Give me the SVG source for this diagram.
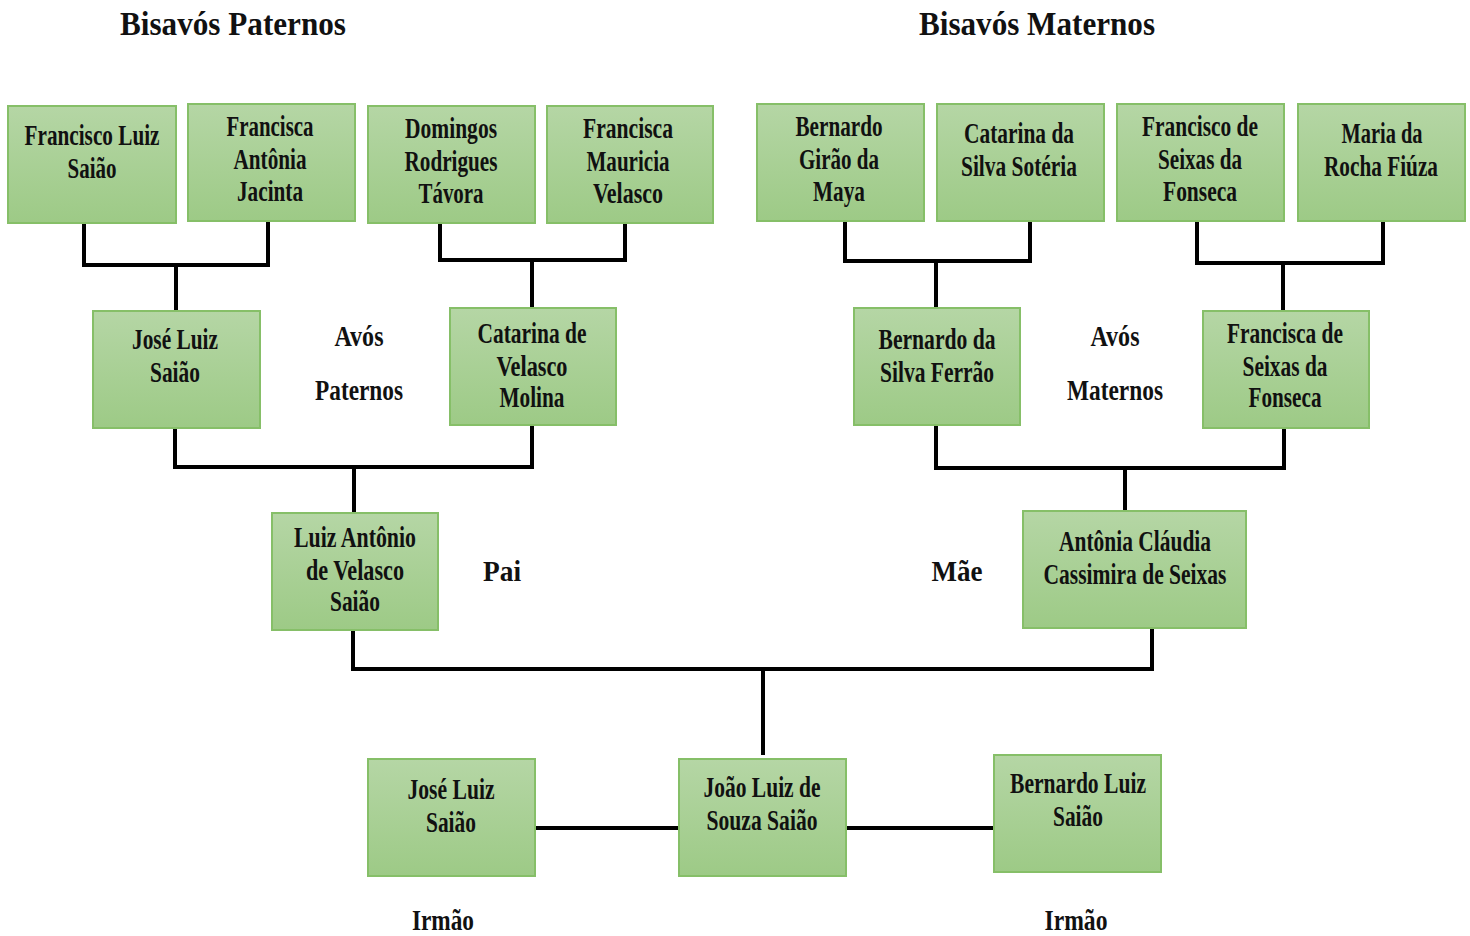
<svg xmlns="http://www.w3.org/2000/svg" width="1470" height="936" viewBox="0 0 1470 936">
<defs>
<linearGradient id="g" x1="0" y1="0" x2="0" y2="1">
<stop offset="0" stop-color="#b5d6a5"/>
<stop offset="1" stop-color="#9dca86"/>
</linearGradient>
<style>
.box{fill:url(#g);stroke:#86bf68;stroke-width:2}
text{font-family:"Liberation Serif","Times New Roman",serif;font-weight:bold;fill:#111;text-anchor:middle}
.t{font-size:29px}
.h{font-size:33px}
.c{fill:none;stroke:#000;stroke-width:4;stroke-linejoin:miter;stroke-linecap:square}
</style>
</defs>
<rect width="1470" height="936" fill="#fff"/>

<g id="titles">
<text class="h" x="233" y="35" textLength="226" lengthAdjust="spacingAndGlyphs">Bisavós Paternos</text>
<text class="h" x="1037" y="35" textLength="236" lengthAdjust="spacingAndGlyphs">Bisavós Maternos</text>
</g>

<g id="connectors">
<path class="c" d="M84,223 V265 H268 V223 M176,265 V311"/>
<path class="c" d="M440,223 V260 H625 V223 M532,260 V308"/>
<path class="c" d="M845,221 V261 H1030 V221 M936,261 V308"/>
<path class="c" d="M1197,221 V263 H1383 V221 M1283,263 V311"/>
<path class="c" d="M175,428 V467 H532 V426 M354,467 V513"/>
<path class="c" d="M936,426 V468 H1284 V428 M1125,468 V511"/>
<path class="c" d="M353,630 V669 H1152 V628 M763,669 V753"/>
<path class="c" d="M535,828 H679 M846,828 H994"/>
</g>

<g id="n1"><rect class="box" x="8" y="106" width="168" height="117"/>
<text class="t" x="92" y="145" textLength="135" lengthAdjust="spacingAndGlyphs">Francisco Luiz</text>
<text class="t" x="92" y="178" textLength="49" lengthAdjust="spacingAndGlyphs">Saião</text></g>

<g id="n2"><rect class="box" x="188" y="104" width="167" height="117"/>
<text class="t" x="270" y="136" textLength="87" lengthAdjust="spacingAndGlyphs">Francisca</text>
<text class="t" x="270" y="169" textLength="73" lengthAdjust="spacingAndGlyphs">Antônia</text>
<text class="t" x="270" y="201" textLength="66" lengthAdjust="spacingAndGlyphs">Jacinta</text></g>

<g id="n3"><rect class="box" x="368" y="106" width="167" height="117"/>
<text class="t" x="451" y="138" textLength="92" lengthAdjust="spacingAndGlyphs">Domingos</text>
<text class="t" x="451" y="171" textLength="93" lengthAdjust="spacingAndGlyphs">Rodrigues</text>
<text class="t" x="451" y="203" textLength="65" lengthAdjust="spacingAndGlyphs">Távora</text></g>

<g id="n4"><rect class="box" x="547" y="106" width="166" height="117"/>
<text class="t" x="628" y="138" textLength="90" lengthAdjust="spacingAndGlyphs">Francisca</text>
<text class="t" x="628" y="171" textLength="83" lengthAdjust="spacingAndGlyphs">Mauricia</text>
<text class="t" x="628" y="203" textLength="70" lengthAdjust="spacingAndGlyphs">Velasco</text></g>

<g id="n5"><rect class="box" x="757" y="104" width="167" height="117"/>
<text class="t" x="839" y="136" textLength="87" lengthAdjust="spacingAndGlyphs">Bernardo</text>
<text class="t" x="839" y="169" textLength="80" lengthAdjust="spacingAndGlyphs">Girão da</text>
<text class="t" x="839" y="201" textLength="52" lengthAdjust="spacingAndGlyphs">Maya</text></g>

<g id="n6"><rect class="box" x="937" y="104" width="167" height="117"/>
<text class="t" x="1019" y="143" textLength="110" lengthAdjust="spacingAndGlyphs">Catarina da</text>
<text class="t" x="1019" y="176" textLength="116" lengthAdjust="spacingAndGlyphs">Silva Sotéria</text></g>

<g id="n7"><rect class="box" x="1117" y="104" width="167" height="117"/>
<text class="t" x="1200" y="136" textLength="116" lengthAdjust="spacingAndGlyphs">Francisco de</text>
<text class="t" x="1200" y="169" textLength="84" lengthAdjust="spacingAndGlyphs">Seixas da</text>
<text class="t" x="1200" y="201" textLength="74" lengthAdjust="spacingAndGlyphs">Fonseca</text></g>

<g id="n8"><rect class="box" x="1298" y="104" width="167" height="117"/>
<text class="t" x="1382" y="143" textLength="81" lengthAdjust="spacingAndGlyphs">Maria da</text>
<text class="t" x="1381" y="176" textLength="114" lengthAdjust="spacingAndGlyphs">Rocha Fiúza</text></g>

<g id="n9"><rect class="box" x="93" y="311" width="167" height="117"/>
<text class="t" x="175" y="349" textLength="86" lengthAdjust="spacingAndGlyphs">José Luiz</text>
<text class="t" x="175" y="382" textLength="50" lengthAdjust="spacingAndGlyphs">Saião</text></g>

<g id="n10"><rect class="box" x="450" y="308" width="166" height="117"/>
<text class="t" x="532" y="343" textLength="109" lengthAdjust="spacingAndGlyphs">Catarina de</text>
<text class="t" x="532" y="376" textLength="71" lengthAdjust="spacingAndGlyphs">Velasco</text>
<text class="t" x="532" y="407" textLength="65" lengthAdjust="spacingAndGlyphs">Molina</text></g>

<g id="n11"><rect class="box" x="854" y="308" width="166" height="117"/>
<text class="t" x="937" y="349" textLength="117" lengthAdjust="spacingAndGlyphs">Bernardo da</text>
<text class="t" x="937" y="382" textLength="114" lengthAdjust="spacingAndGlyphs">Silva Ferrão</text></g>

<g id="n12"><rect class="box" x="1203" y="311" width="166" height="117"/>
<text class="t" x="1285" y="343" textLength="116" lengthAdjust="spacingAndGlyphs">Francisca de</text>
<text class="t" x="1285" y="376" textLength="85" lengthAdjust="spacingAndGlyphs">Seixas da</text>
<text class="t" x="1285" y="407" textLength="73" lengthAdjust="spacingAndGlyphs">Fonseca</text></g>

<g id="labels">
<text class="t" x="359" y="346" textLength="49" lengthAdjust="spacingAndGlyphs">Avós</text>
<text class="t" x="359" y="400" textLength="88" lengthAdjust="spacingAndGlyphs">Paternos</text>
<text class="t" x="1115" y="346" textLength="49" lengthAdjust="spacingAndGlyphs">Avós</text>
<text class="t" x="1115" y="400" textLength="96" lengthAdjust="spacingAndGlyphs">Maternos</text>
<text class="t" x="502" y="581" textLength="38" lengthAdjust="spacingAndGlyphs">Pai</text>
<text class="t" x="957" y="581" textLength="51" lengthAdjust="spacingAndGlyphs">Mãe</text>
<text class="t" x="443" y="930" textLength="62" lengthAdjust="spacingAndGlyphs">Irmão</text>
<text class="t" x="1076" y="930" textLength="63" lengthAdjust="spacingAndGlyphs">Irmão</text>
</g>

<g id="n13"><rect class="box" x="272" y="513" width="166" height="117"/>
<text class="t" x="355" y="547" textLength="122" lengthAdjust="spacingAndGlyphs">Luiz Antônio</text>
<text class="t" x="355" y="580" textLength="98" lengthAdjust="spacingAndGlyphs">de Velasco</text>
<text class="t" x="355" y="611" textLength="50" lengthAdjust="spacingAndGlyphs">Saião</text></g>

<g id="n14"><rect class="box" x="1023" y="511" width="223" height="117"/>
<text class="t" x="1135" y="551" textLength="152" lengthAdjust="spacingAndGlyphs">Antônia Cláudia</text>
<text class="t" x="1135" y="584" textLength="183" lengthAdjust="spacingAndGlyphs">Cassimira de Seixas</text></g>

<g id="n15"><rect class="box" x="368" y="759" width="167" height="117"/>
<text class="t" x="451" y="799" textLength="87" lengthAdjust="spacingAndGlyphs">José Luiz</text>
<text class="t" x="451" y="832" textLength="50" lengthAdjust="spacingAndGlyphs">Saião</text></g>

<g id="n16"><rect class="box" x="679" y="759" width="167" height="117"/>
<text class="t" x="762" y="797" textLength="117" lengthAdjust="spacingAndGlyphs">João Luiz de</text>
<text class="t" x="762" y="830" textLength="111" lengthAdjust="spacingAndGlyphs">Souza Saião</text></g>

<g id="n17"><rect class="box" x="994" y="755" width="167" height="117"/>
<text class="t" x="1078" y="793" textLength="136" lengthAdjust="spacingAndGlyphs">Bernardo Luiz</text>
<text class="t" x="1078" y="826" textLength="50" lengthAdjust="spacingAndGlyphs">Saião</text></g>
</svg>
